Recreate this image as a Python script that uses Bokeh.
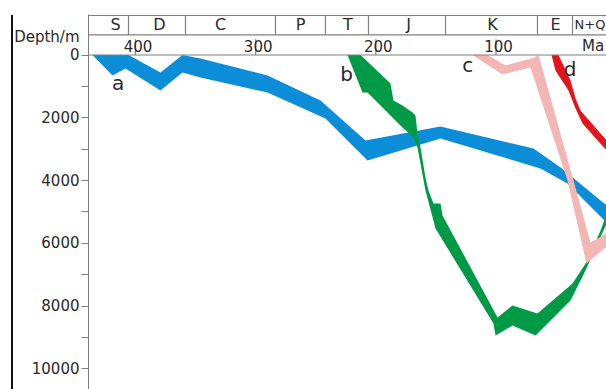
from bokeh.plotting import figure
from bokeh.models import Range1d, FixedTicker, InlineStyleSheet
from bokeh.core.properties import value
from bokeh.embed import file_html
from bokeh.resources import INLINE

# ---- geological time scale (Ma) ----
period_names = ["S", "D", "C", "P", "T", "J", "K", "E", "N+Q"]
period_bounds = [441.2, 407.9, 360.5, 285.6, 244.0, 208.2, 144.1, 67.6, 38.4, 0.0]
period_label_age = [418.7, 382.1, 331.3, 264.8, 225.3, 174.9, 105.0, 52.6, 21.0]
age_ticks = [400, 300, 200, 100]
depth_ticks = [0, 2000, 4000, 6000, 8000, 10000]
depth_minor = [1000, 3000, 5000, 7000, 9000]
y_title = "Depth/m"
x_title = "Ma"

# ---- burial bands: upper edge and lower edge (age Ma, depth m) ----
a_top_age = [437.9, 407.9, 381.3, 363.0, 348.0, 292.2, 248.1, 210.7, 148.3, 70.9, 48.4, 15.1, 2.6]
a_top_depth = [0, 0, 557, 0, 111, 653, 1449, 2723, 2277, 2978, 3583, 4634, 5016]
a_bot_age = [437.9, 421.2, 410.4, 381.3, 363.0, 348.0, 292.2, 244.0, 209.0, 148.3, 65.1, 42.6, 17.6, 5.1]
a_bot_depth = [0, 653, 430, 1131, 557, 717, 1194, 2022, 3360, 2659, 3615, 4092, 5048, 5526]

b_top_age = [214.8, 189.9, 187.4, 179.9, 171.6, 169.1, 167.4, 164.9, 160.8, 158.3, 154.1, 148.3, 146.6,
             100.8, 88.4, 67.6, 38.4, 25.9, 15.1, 5.1]
b_top_depth = [0, 908, 1449, 1608, 1831, 1927, 2500, 2946, 3902, 4316, 4730, 4730, 5112,
               8361, 7978, 8233, 7278, 6545, 5590, 4571]
b_bot_age = [225.7, 213.2, 209.0, 195.7, 181.6, 170.7, 167.4, 160.8, 152.4, 104.2, 102.5, 88.4, 69.2,
             40.1, 27.6, 17.6, 5.1]
b_bot_depth = [0, 1194, 1194, 1704, 2245, 2628, 2946, 4316, 5526, 8552, 8934, 8616, 8934,
               7819, 6864, 6004, 4953]

c_top_age = [109.2, 94.2, 70.9, 66.7, 37.6, 23.5, 10.1, 0.2]
c_top_depth = [0, 334, 96, 0, 3997, 5972, 5685, 5558]
c_bot_age = [121.6, 96.7, 73.4, 42.6, 26.8, 10.1, 0.2]
c_bot_depth = [0, 621, 398, 3997, 6641, 6099, 5908]

d_top_age = [50.1, 40.1, 35.9, 31.8, 10.1, 0.2]
d_top_depth = [0, 812, 1385, 1768, 2723, 3137]
d_bot_age = [55.9, 52.6, 41.8, 35.9, 30.1, 10.1, 0.2]
d_bot_depth = [0, 494, 1131, 1704, 2182, 3041, 3424]

curve_names = ["a", "b", "c", "d"]
curve_label_age = [416.5, 226.4, 125.6, 40.5]
curve_label_depth = [900, 590, 330, 430]
curve_colors = ["#0C8DD7", "#009A46", "#F4B5B5", "#E5131C"]

# ---- layout constants ----
STRIP_TOP = -1258
STRIP_MID = -640
TITLE_Y = -585
FONT = "DejaVu Sans"
GRAY = "#808080"
TXT = "#2a2a2a"

p = figure(width=606, height=389,
           x_range=Range1d(441.19, 10.14), y_range=Range1d(10654, -1290),
           output_backend="svg", toolbar_location=None, x_axis_location=None,
           min_border_left=88, min_border_right=0, min_border_top=14, min_border_bottom=0)
p.outline_line_color = None
p.grid.visible = False

# y axis: visible tick marks are drawn as "minor" ticks; labelled positions are
# invisible "major" ticks, which also carry the axis title at the top.
ax = p.yaxis[0]
ax.ticker = FixedTicker(ticks=[TITLE_Y] + depth_ticks,
                        minor_ticks=sorted(depth_ticks + depth_minor))
ax.major_label_overrides = {TITLE_Y: y_title}
ax.axis_line_color = GRAY
ax.major_tick_line_color = None
ax.minor_tick_line_color = GRAY
ax.major_tick_out = 7
ax.major_tick_in = 0
ax.minor_tick_out = 7
ax.minor_tick_in = 0
ax.major_label_standoff = 2
ax.major_label_text_font = FONT
ax.major_label_text_font_size = "15px"
ax.major_label_text_color = TXT

# bands
bands = [(a_top_age, a_top_depth, a_bot_age, a_bot_depth),
         (b_top_age, b_top_depth, b_bot_age, b_bot_depth),
         (c_top_age, c_top_depth, c_bot_age, c_bot_depth),
         (d_top_age, d_top_depth, d_bot_age, d_bot_depth)]
for i in [0, 1, 2, 3]:
    ta, td, ba, bd = bands[i]
    xs = list(ta) + list(reversed(ba))
    ys = list(td) + list(reversed(bd))
    p.patch(xs, ys, fill_color=curve_colors[i], line_color=None)

# curve letters
p.text(x=curve_label_age, y=curve_label_depth, text=curve_names,
       text_font=value(FONT), text_font_size="20px", text_color=TXT,
       text_align="center", text_baseline="middle")

# stratigraphic strip
left, right = period_bounds[0], period_bounds[-1]
p.segment(x0=[left] * 3, x1=[right] * 3, y0=[STRIP_TOP, STRIP_MID, 0], y1=[STRIP_TOP, STRIP_MID, 0],
          line_color=GRAY, line_width=1.2)
inner = period_bounds[1:-1]
p.segment(x0=inner, x1=inner, y0=[STRIP_TOP] * len(inner), y1=[STRIP_MID] * len(inner),
          line_color=GRAY, line_width=1.2)
p.text(x=period_label_age[:-1], y=[-975] * (len(period_names) - 1), text=period_names[:-1],
       text_font=value(FONT), text_font_size="16px", text_color=TXT,
       text_align="center", text_baseline="middle")
# last (youngest) period label, left-aligned in its narrow cell
p.text(x=[period_bounds[-2]], y=[-975], text=[period_names[-1]], x_offset=2,
       text_font=value(FONT), text_font_size="13px", text_color=TXT,
       text_align="left", text_baseline="middle")

# age ticks (drawn just left of the value, as in the original) and labels
tick_x = [t + 2.1 for t in age_ticks]
p.segment(x0=tick_x, x1=tick_x, y0=[0] * len(age_ticks), y1=[-500] * len(age_ticks),
          line_color=GRAY, line_width=1.2)
p.text(x=age_ticks, y=[-300] * len(age_ticks), text=[str(t) for t in age_ticks],
       text_font=value(FONT), text_font_size="15px", text_color=TXT,
       text_align="center", text_baseline="middle")
p.text(x=[30.5], y=[-300], text=[x_title], text_font=value(FONT), text_font_size="15px",
       text_color=TXT, text_align="left", text_baseline="middle")

# thin dark frame line at the far left of the original picture
p.stylesheets = [InlineStyleSheet(css=(
    ":host::after { content: ''; position: absolute; left: 11px; top: 15px; "
    "width: 1.5px; height: 374px; background: #111; z-index: 10; pointer-events: none; }"))]

open("out.html", "w").write(file_html(p, INLINE))
